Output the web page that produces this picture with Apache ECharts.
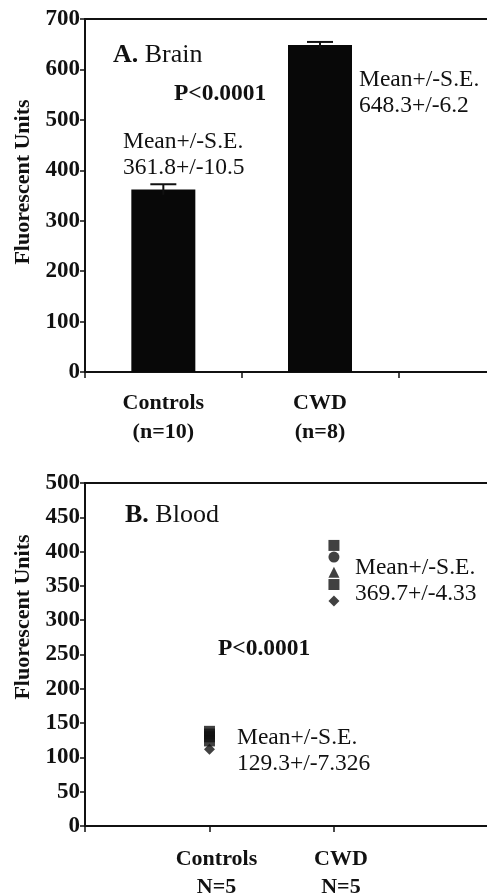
<!DOCTYPE html>
<html>
<head>
<meta charset="utf-8">
<script src="https://cdn.jsdelivr.net/npm/echarts@6/dist/echarts.min.js"></script>
<style>html,body{margin:0;padding:0;background:#fff}#c{width:487px;height:893px}</style>
</head>
<body>
<div id="c"></div>
<script>
// ---- data ----
const brainCats = ['Controls\n(n=10)', 'CWD\n(n=8)', ''];
const brainMean = [361.8, 648.3];
const brainSE = [10.5, 6.2];
const brainYMax = 700, brainYStep = 100;

const bloodCats = ['Controls\nN=5', 'CWD\nN=5'];
const ctrlBlood = [138, 134, 130, 124, 112];
const cwdBlood = [409, 392, 370, 352, 328];
const bloodYMax = 500, bloodYStep = 50;

const ctrlSymbols = ['rect', 'rect', 'rect', 'rect', 'diamond'];
const cwdSymbols = ['rect', 'circle', 'triangle', 'rect', 'diamond'];

const yName = 'Fluorescent Units';
const brainNotes = ['Mean+/-S.E.\n361.8+/-10.5', 'Mean+/-S.E.\n648.3+/-6.2'];
const bloodNotes = ['Mean+/-S.E.\n129.3+/-7.326', 'Mean+/-S.E.\n369.7+/-4.33'];
const pText = 'P<0.0001';

// ---- chart ----
const FONT = '"Liberation Serif", "Times New Roman", serif';
const chart = echarts.init(document.getElementById('c'));
const ink = '#111';

function yAxisCfg(gi, max, step) {
  return {
    gridIndex: gi, type: 'value', min: 0, max: max, interval: step,
    axisLine: {show: true, lineStyle: {color: ink, width: 2}},
    axisTick: {show: true, length: 5, lineStyle: {color: ink, width: 1.5}},
    splitLine: {show: false},
    axisLabel: {color: ink, fontFamily: FONT, fontWeight: 'bold', fontSize: 23, margin: 5}
  };
}

function txt(x, y, text, opts) {
  return Object.assign({
    type: 'text', x: x, y: y,
    style: Object.assign({text: text, fontFamily: FONT, fontSize: 23.5, fill: ink,
      textAlign: 'left', textVerticalAlign: 'middle', lineHeight: 26}, opts || {})
  });
}

chart.setOption({
  animation: false,
  backgroundColor: '#fff',
  grid: [
    {left: 85, top: 19, height: 353, right: -68, outerBoundsMode: 'none', containLabel: false,
     show: true, borderColor: ink, borderWidth: 2, backgroundColor: 'transparent'},
    {left: 85, top: 483, height: 343, right: -10, outerBoundsMode: 'none', containLabel: false,
     show: true, borderColor: ink, borderWidth: 2, backgroundColor: 'transparent'}
  ],
  xAxis: [
    {gridIndex: 0, type: 'category', data: brainCats, boundaryGap: true,
     axisLine: {lineStyle: {color: ink, width: 2}},
     axisTick: {show: true, length: 6, lineStyle: {color: ink, width: 1.5}},
     axisLabel: {color: ink, fontFamily: FONT, fontWeight: 'bold', fontSize: 22, lineHeight: 29, margin: 17}},
    {gridIndex: 1, type: 'value', min: 0, max: 3.31, interval: 1,
     axisLine: {onZero: false, lineStyle: {color: ink, width: 2}},
     axisTick: {show: true, length: 6, customValues: [0, 1, 2], lineStyle: {color: ink, width: 1.5}},
     splitLine: {show: false},
     axisLabel: {color: ink, fontFamily: FONT, fontWeight: 'bold', fontSize: 22, lineHeight: 28, margin: 19,
       customValues: [1, 2], padding: [0, 0, 0, 14],
       formatter: function (v) { return bloodCats[Math.round(v) - 1] || ''; }}}
  ],
  yAxis: [yAxisCfg(0, brainYMax, brainYStep), yAxisCfg(1, bloodYMax, bloodYStep)],
  series: [
    {type: 'bar', xAxisIndex: 0, yAxisIndex: 0, data: brainMean, barWidth: 64,
     itemStyle: {color: '#080808'}},
    {type: 'custom', xAxisIndex: 0, yAxisIndex: 0,
     data: brainMean.map((m, i) => [i, m, brainSE[i]]),
     renderItem: function (params, api) {
       const i = api.value(0), m = api.value(1), se = api.value(2);
       const lo = api.coord([i, m - se]), hi = api.coord([i, m + se]);
       const half = 13;
       return {type: 'group', children: [
         {type: 'line', shape: {x1: hi[0], y1: lo[1], x2: hi[0], y2: hi[1]}, style: {stroke: ink, lineWidth: 2}},
         {type: 'line', shape: {x1: hi[0] - half, y1: hi[1], x2: hi[0] + half, y2: hi[1]}, style: {stroke: ink, lineWidth: 2}}
       ]};
     }, z: 5},
    {type: 'scatter', xAxisIndex: 1, yAxisIndex: 1, symbolSize: 11,
     data: ctrlBlood.map((v, i) => ({value: [1, v], symbol: ctrlSymbols[i]})),
     itemStyle: {color: ink}},
    {type: 'scatter', xAxisIndex: 1, yAxisIndex: 1, symbolSize: 11,
     data: cwdBlood.map((v, i) => ({value: [2, v], symbol: cwdSymbols[i]})),
     itemStyle: {color: ink}}
  ],
  graphic: [
    txt(23, 182, yName, {fontWeight: 'bold', textAlign: 'center', fontSize: 22}),
    txt(23, 617, yName, {fontWeight: 'bold', textAlign: 'center', fontSize: 22}),
    txt(113, 55, '{b|A.} Brain', {rich: {b: {fontWeight: 'bold', fontFamily: FONT, fontSize: 26}}, fontSize: 26}),
    txt(174, 94, pText, {fontWeight: 'bold'}),
    txt(123, 155, brainNotes[0]),
    txt(359, 93, brainNotes[1]),
    txt(125, 515, '{b|B.} Blood', {rich: {b: {fontWeight: 'bold', fontFamily: FONT, fontSize: 26}}, fontSize: 26}),
    txt(218, 649, pText, {fontWeight: 'bold'}),
    txt(355, 581, bloodNotes[1]),
    txt(237, 751, bloodNotes[0])
  ].map((g, k) => (k < 2 ? Object.assign(g, {rotation: Math.PI / 2}) : g))
});
</script>
</body>
</html>
